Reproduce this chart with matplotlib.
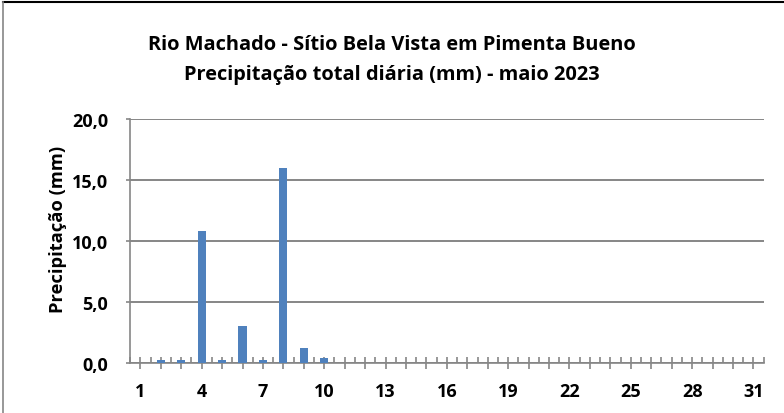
import matplotlib.pyplot as plt
from matplotlib.ticker import FixedLocator, FuncFormatter

# daily precipitation, May 2023 (mm)
days = list(range(1, 32))
precip = [0.0, 0.2, 0.2, 10.8, 0.2, 3.0, 0.2, 16.0, 1.2, 0.4,
          0, 0, 0, 0, 0, 0, 0, 0, 0, 0,
          0, 0, 0, 0, 0, 0, 0, 0, 0, 0, 0]
label_days = [1, 4, 7, 10, 13, 16, 19, 22, 25, 28, 31]
y_ticks = [0, 5, 10, 15, 20]

plt.rcParams['font.family'] = ['Open Sans', 'DejaVu Sans']

fig = plt.figure(figsize=(7.84, 4.14), dpi=100)
ax = fig.add_axes([0.166, 0.121, 0.808, 0.589])

ax.bar(days, precip, width=0.4, color='#4f81bd', zorder=3)

ax.set_xlim(0.5, 31.5)
ax.set_ylim(0, 20)
ax.set_yticks(y_ticks)
ax.yaxis.set_major_formatter(FuncFormatter(lambda v, p: f'{v:.1f}'.replace('.', ',')))
ax.set_xticks(days)
ax.set_xticklabels([str(d) if d in label_days else '' for d in days])
ax.xaxis.set_minor_locator(FixedLocator([d + 0.5 for d in range(0, 32)]))

ax.grid(axis='y', color='#868686', linewidth=1.4, zorder=0)
for s in ['top', 'right']:
    ax.spines[s].set_visible(False)
for s in ['left', 'bottom']:
    ax.spines[s].set_color('#868686')
    ax.spines[s].set_linewidth(1.2)

ax.tick_params(axis='x', which='major', direction='inout', length=8, width=1.2,
               color='#868686', pad=10)
ax.tick_params(axis='x', which='minor', direction='in', length=4, width=1.2,
               color='#868686')
ax.tick_params(axis='y', which='major', direction='out', length=3, width=1.2,
               color='#868686', pad=13)
for lbl in ax.get_xticklabels() + ax.get_yticklabels():
    lbl.set_fontsize(13)
    lbl.set_fontweight('bold')

ax.set_ylabel('Precipitação (mm)', fontsize=13.2, fontweight='bold')
ax.yaxis.set_label_coords(-0.1, 0.55)

fig.text(0.5, 0.891, 'Rio Machado - Sítio Bela Vista em Pimenta Bueno',
         ha='center', va='center', fontsize=14.4, fontweight='bold')
fig.text(0.5, 0.819, 'Precipitação total diária (mm) - maio 2023',
         ha='center', va='center', fontsize=14.4, fontweight='bold')

# chart area border
fig.add_artist(plt.Line2D([0.004, 1], [0.992, 0.992], color='black', linewidth=1.5))
fig.add_artist(plt.Line2D([0.004, 0.004], [0, 0.992], color='#868686', linewidth=1.2))

fig.savefig('out.png', dpi=100)
